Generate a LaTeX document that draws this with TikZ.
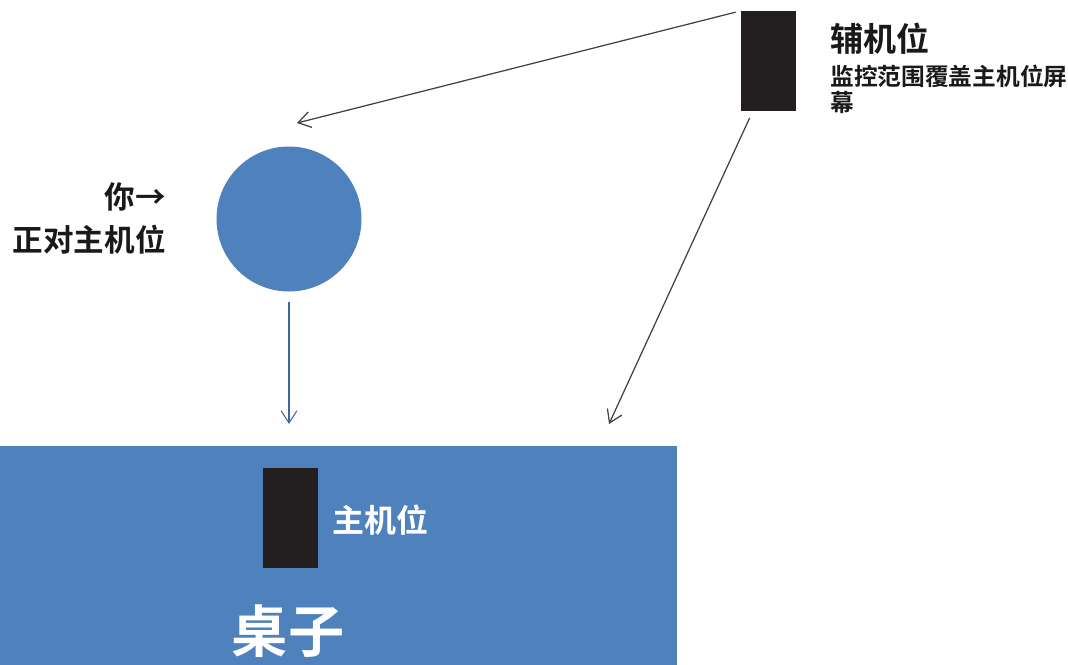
\documentclass[tikz,border=0pt]{standalone}
\usepackage{fontspec}
\newfontfamily\cjk{Noto Sans CJK SC}[BoldFont={Noto Sans CJK SC Bold}]
\usetikzlibrary{arrows.meta}
\definecolor{deskblue}{HTML}{4F81BD}
\definecolor{camblack}{HTML}{231F20}
\tikzset{
  camera/.style={fill=camblack, draw=none, minimum width=55*0.02cm, minimum height=100*0.02cm, inner sep=0pt},
  arr/.style={draw=black!75, line width=0.7pt, -{Straight Barb[length=7pt,width=9pt]}},
  lbl/.style={font=\cjk\bfseries, inner sep=0pt, text=black!90},
}
\begin{document}
\begin{tikzpicture}[x=0.02cm,y=-0.02cm]
\useasboundingbox (0,0) rectangle (1068,664);
% desk
\node[fill=deskblue, draw=none, minimum width=677*0.02cm, minimum height=220*0.02cm, inner sep=0pt, anchor=north west] (desk) at (0,446) {};
% cameras
\node[camera] (aux) at (768.5,60.5) {};
\node[camera] (main) at (290,517.5) {};
% person
\node[circle, fill=deskblue, draw=none, minimum size=145*0.02cm, inner sep=0pt] (you) at (289,219) {};
% labels
\node[lbl, anchor=west, font=\cjk\bfseries\fontsize{18.8}{20}\selectfont] (auxlbl) at (830,39) {辅机位};
\node[lbl, anchor=north west, align=left, font=\cjk\bfseries\fontsize{13.5}{14.6}\selectfont] (auxdesc) at (830,65) {监控范围覆盖主机位屏\\幕};
\node[lbl, anchor=east, align=right, font=\cjk\bfseries\fontsize{17.4}{24.5}\selectfont] (youlbl) at (166,218) {你→\\正对主机位};
\node[lbl, anchor=west, text=white, font=\cjk\bfseries\fontsize{18.2}{20}\selectfont] (mainlbl) at (332,520) {主机位};
\node[lbl, anchor=center, text=white, font=\cjk\bfseries\fontsize{32}{34}\selectfont] (desklbl) at (288,631) {桌子};
% connectors
\coordinate (a1) at (297,123);
\coordinate (a2) at (609,424);
\coordinate (a3) at (289,424);
\draw[arr] (aux.north west) ++(-5,2) coordinate (s1) -- (a1);
\draw[arr] (aux.south west) ++(9,7) coordinate (s2) -- (a2);
\draw[arr, draw=deskblue!80!black, line width=0.6pt] (you.south) ++(0,10) coordinate (s3) -- (a3);
\end{tikzpicture}
\end{document}
